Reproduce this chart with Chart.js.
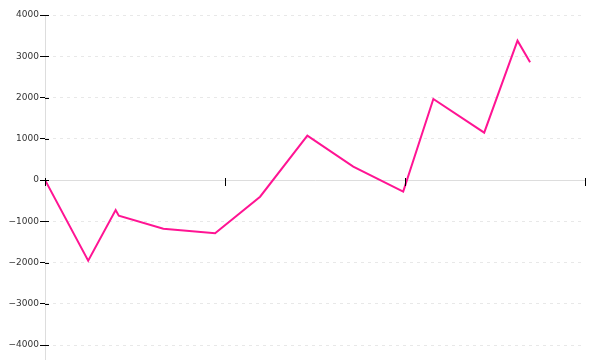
<!DOCTYPE html>
<html>
<head>
<meta charset="utf-8">
<script src="https://cdn.jsdelivr.net/npm/chart.js@4"></script>
<style>
  html, body { margin: 0; padding: 0; background: #fff; }
  #chart { display: block; }
</style>
</head>
<body>
<canvas id="chart" width="600" height="360"></canvas>
<script>
// x positions (axis units, 0..12) and values
var xValues = [0, 0.96, 1.57, 1.64, 2.63, 3.78, 4.78, 5.83, 6.85, 7.96, 8.63, 9.76, 10.5, 10.78];
var yValues = [0, -1956, -727, -864, -1181, -1290, -405, 1075, 323, -283, 1964, 1148, 3378, 2853];
var yTicks = [-4000, -3000, -2000, -1000, 0, 1000, 2000, 3000, 4000];
var xTicks = [0, 4, 8, 12];

var points = xValues.map(function(x, i) { return { x: x, y: yValues[i] }; });

// tick marks that cross the axis lines, like the original axes
var tickStubs = {
    id: 'tickStubs',
    afterDraw: function(chart) {
        var ctx = chart.ctx;
        var xs = chart.scales.x, ys = chart.scales.y;
        var zeroY = Math.round(ys.getPixelForValue(0));
        ctx.save();
        ctx.strokeStyle = '#000';
        ctx.lineWidth = 1;
        ctx.beginPath();
        yTicks.forEach(function(v) {
            var py = Math.round(ys.getPixelForValue(v)) + 0.5;
            ctx.moveTo(chart.chartArea.left, py);
            ctx.lineTo(chart.chartArea.left + 4, py);
        });
        xTicks.forEach(function(v) {
            var px = Math.round(xs.getPixelForValue(v)) + 0.5;
            ctx.moveTo(px, zeroY - 2);
            ctx.lineTo(px, zeroY + 6);
        });
        ctx.stroke();
        ctx.restore();
    }
};

new Chart(document.getElementById('chart').getContext('2d'), {
    type: 'line',
    data: {
        datasets: [{
            data: points,
            borderColor: '#ff1493',
            borderWidth: 2,
            pointRadius: 0,
            tension: 0,
            fill: false
        }]
    },
    options: {
        responsive: false,
        animation: false,
        layout: { padding: { top: 15, right: 15, bottom: 0, left: 0 } },
        plugins: { legend: { display: false }, tooltip: { enabled: false } },
        scales: {
            x: {
                type: 'linear',
                position: { y: 0 },
                min: 0,
                max: 12,
                afterBuildTicks: function(scale) {
                    scale.ticks = xTicks.map(function(v) { return { value: v }; });
                },
                afterFit: function(scale) { scale.height = 0; },
                ticks: { display: false },
                grid: { drawOnChartArea: false, drawTicks: false },
                border: { color: '#dddddd', width: 1 }
            },
            y: {
                min: -4363.6,
                max: 4000,
                afterBuildTicks: function(scale) {
                    scale.ticks = yTicks.map(function(v) { return { value: v }; });
                },
                afterFit: function(scale) {
                    scale.width = 45;
                    scale.paddingTop = 0;
                    scale.paddingBottom = 0;
                },
                ticks: {
                    color: '#333',
                    padding: 1,
                    font: { family: 'DejaVu Sans', size: 9 },
                    callback: function(v) { return String(v).replace('-', '\u2212'); }
                },
                grid: {
                    color: '#e8e8e8',
                    tickColor: '#000',
                    tickLength: 5,
                    tickBorderDash: []
                },
                border: { color: '#dddddd', width: 1, dash: [3, 4] }
            }
        }
    },
    plugins: [tickStubs]
});
</script>
</body>
</html>
